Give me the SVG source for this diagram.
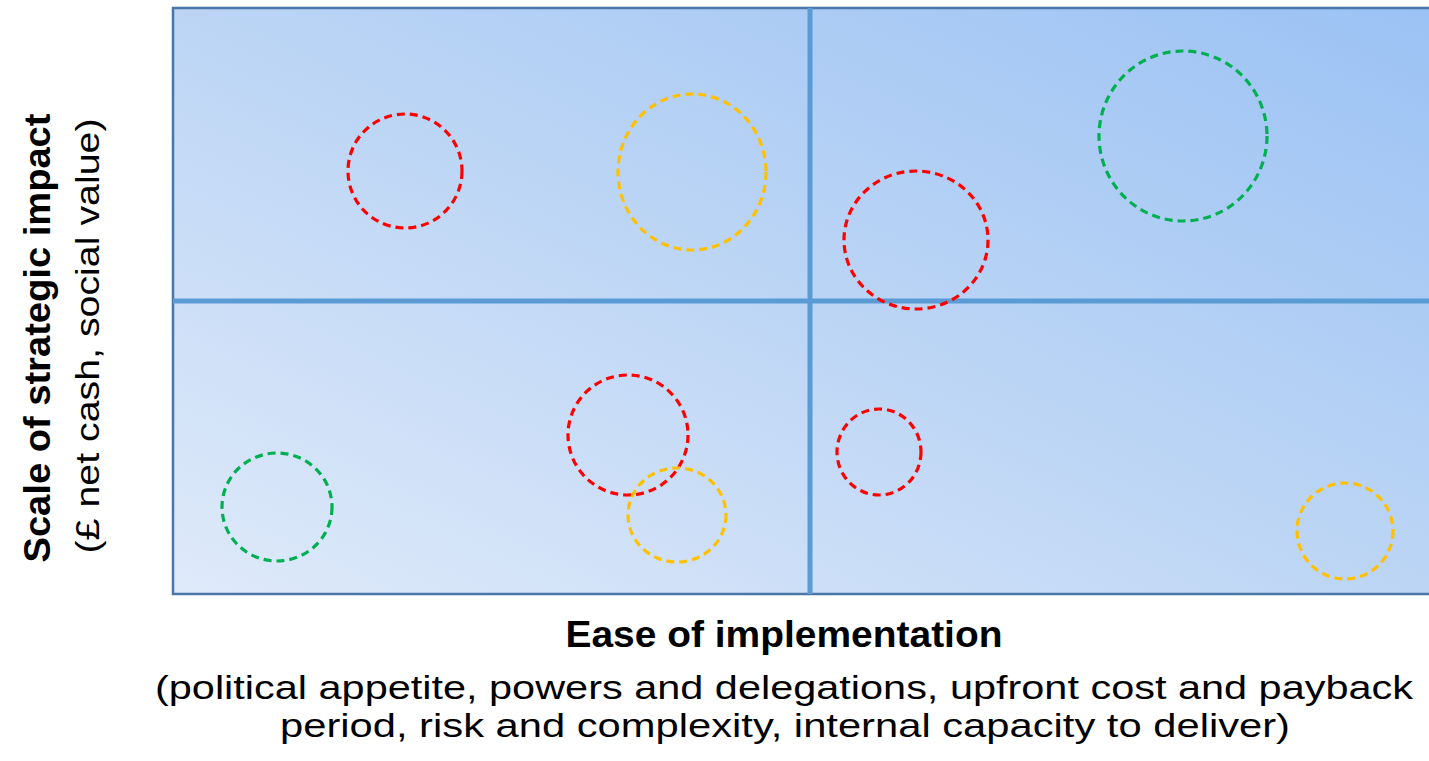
<svg xmlns="http://www.w3.org/2000/svg" width="1429" height="761" viewBox="0 0 1429 761">
<defs>
<linearGradient id="bg" x1="0" y1="1" x2="1" y2="0">
<stop offset="0" stop-color="#dfeafa"/>
<stop offset="0.5" stop-color="#bcd5f5"/>
<stop offset="1" stop-color="#9bc2f4"/>
</linearGradient>
<style>
.c{fill:none;stroke-width:3.2;stroke-dasharray:8 5}
.r{stroke:#ff0000}.y{stroke:#ffc000}.g{stroke:#00b050}
.div{stroke:#5b9bd5;stroke-width:5}
.t{font-family:"Liberation Sans",Arial,sans-serif;fill:#000;font-size:33px}
.b{font-weight:bold;font-size:36px}
</style>
</defs>
<g id="matrix">
<rect x="173" y="8" width="1262" height="586" fill="url(#bg)" stroke="#4a76a8" stroke-width="2.5"/>
<line class="div" x1="810" y1="8" x2="810" y2="594"/>
<line class="div" x1="173" y1="301" x2="1429" y2="301"/>
</g>
<g id="connectors"></g>
<g id="n1"><ellipse class="c r" cx="405" cy="171" rx="57" ry="57"/></g>
<g id="n2"><ellipse class="c y" cx="692" cy="172" rx="74" ry="78"/></g>
<g id="n3"><ellipse class="c r" cx="916" cy="240" rx="72" ry="69"/></g>
<g id="n4"><ellipse class="c g" cx="1183" cy="136" rx="84" ry="85"/></g>
<g id="n5"><ellipse class="c r" cx="628" cy="435" rx="60" ry="60"/></g>
<g id="n6"><ellipse class="c y" cx="677" cy="515" rx="49" ry="47"/></g>
<g id="n7"><ellipse class="c g" cx="277" cy="507" rx="55" ry="54"/></g>
<g id="n8"><ellipse class="c r" cx="879" cy="452" rx="42" ry="43"/></g>
<g id="n9"><ellipse class="c y" cx="1345" cy="531" rx="48" ry="48"/></g>
<g id="xlabel">
<text class="t b" x="784" y="647" text-anchor="middle" textLength="437" lengthAdjust="spacingAndGlyphs">Ease of implementation</text>
<text class="t" x="784" y="699" text-anchor="middle" textLength="1258" lengthAdjust="spacingAndGlyphs">(political appetite, powers and delegations, upfront cost and payback</text>
<text class="t" x="785" y="737" text-anchor="middle" textLength="1010" lengthAdjust="spacingAndGlyphs">period, risk and complexity, internal capacity to deliver)</text>
</g>
<g id="ylabel">
<text class="t b" transform="translate(50,338) rotate(-90)" text-anchor="middle" textLength="449" lengthAdjust="spacingAndGlyphs">Scale of strategic impact</text>
<text class="t" transform="translate(99,336) rotate(-90)" text-anchor="middle" textLength="435" lengthAdjust="spacingAndGlyphs">(£ net cash, social value)</text>
</g>
</svg>
